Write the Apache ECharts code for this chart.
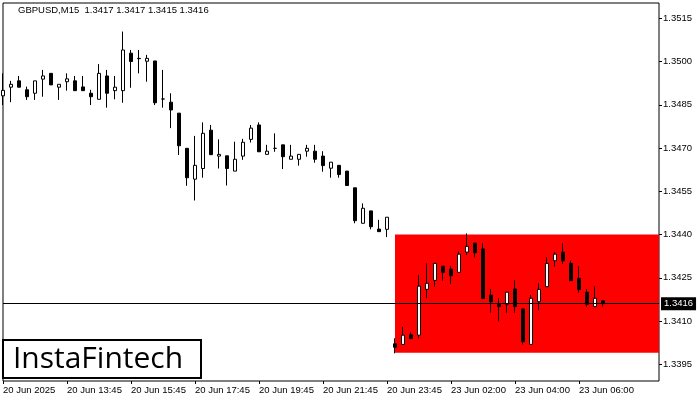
<!DOCTYPE html>
<html><head><meta charset="utf-8">
<script src="https://cdn.jsdelivr.net/npm/echarts@6/dist/echarts.min.js"></script>
<style>html,body{margin:0;padding:0;background:#fff}#c{width:700px;height:400px}</style>
</head><body><div id="c"></div>
<script>
const titleText = 'GBPUSD,M15  1.3417 1.3417 1.3415 1.3416';
const opens = [1.34881,1.34911,1.34933,1.34902,1.34890,1.34939,1.34959,1.34911,1.34930,1.34933,
1.34912,1.34890,1.34869,1.34950,1.34899,1.34899,1.35029,1.35011,1.35001,1.35002,
1.34870,1.34859,1.34821,1.34699,1.34592,1.34629,1.34762,1.34672,1.34673,1.34620,
1.34672,1.34730,1.34780,1.34678,1.34699,1.34711,1.34661,1.34661,1.34689,1.34689,
1.34672,1.34630,1.34640,1.34620,1.34562,1.34439,1.34482,1.34419,1.34418,1.34021,
1.34019,1.34052,1.34051,1.34210,1.34241,1.34290,1.34280,1.34269,1.34339,1.34370,
1.34350,1.34190,1.34158,1.34158,1.34211,1.34142,1.34019,1.34167,1.34219,1.34309,
1.34339,1.34300,1.34248,1.34200,1.34150,1.34170];
const closes = [1.34900,1.34921,1.34911,1.34878,1.34933,1.34950,1.34919,1.34921,1.34940,1.34899,
1.34899,1.34878,1.34959,1.34890,1.34911,1.35040,1.35000,1.35010,1.35011,1.34857,
1.34870,1.34832,1.34708,1.34597,1.34640,1.34751,1.34677,1.34678,1.34629,1.34661,
1.34720,1.34769,1.34687,1.34689,1.34699,1.34670,1.34672,1.34678,1.34699,1.34661,
1.34639,1.34651,1.34608,1.34570,1.34448,1.34491,1.34427,1.34410,1.34460,1.34009,
1.34051,1.34039,1.34221,1.34231,1.34300,1.34269,1.34257,1.34332,1.34359,1.34337,
1.34178,1.34167,1.34150,1.34200,1.34150,1.34028,1.34179,1.34210,1.34300,1.34332,
1.34309,1.34240,1.34209,1.34158,1.34179,1.34160];
const lows = [1.34849,1.34859,1.34911,1.34867,1.34867,1.34878,1.34919,1.34867,1.34899,1.34899,
1.34899,1.34849,1.34869,1.34840,1.34869,1.34857,1.34909,1.34959,1.34930,1.34849,
1.34840,1.34769,1.34676,1.34569,1.34518,1.34597,1.34677,1.34629,1.34570,1.34620,
1.34659,1.34719,1.34687,1.34678,1.34687,1.34627,1.34661,1.34639,1.34670,1.34649,
1.34618,1.34597,1.34597,1.34570,1.34439,1.34439,1.34418,1.34410,1.34391,1.33988,
1.34019,1.34039,1.34040,1.34179,1.34219,1.34240,1.34229,1.34269,1.34329,1.34320,
1.34178,1.34129,1.34098,1.34129,1.34129,1.34019,1.34019,1.34138,1.34219,1.34289,
1.34298,1.34240,1.34198,1.34150,1.34150,1.34150];
const highs = [1.34959,1.34933,1.34950,1.34913,1.34933,1.34971,1.34959,1.34921,1.34959,1.34950,
1.34950,1.34902,1.34991,1.34971,1.34950,1.35104,1.35040,1.35040,1.35023,1.35002,
1.34971,1.34890,1.34821,1.34699,1.34742,1.34789,1.34780,1.34730,1.34673,1.34722,
1.34732,1.34780,1.34789,1.34711,1.34751,1.34711,1.34711,1.34678,1.34711,1.34711,
1.34689,1.34651,1.34640,1.34620,1.34562,1.34508,1.34482,1.34451,1.34460,1.34040,
1.34080,1.34061,1.34260,1.34300,1.34300,1.34290,1.34291,1.34341,1.34404,1.34370,
1.34370,1.34211,1.34179,1.34200,1.34242,1.34142,1.34190,1.34231,1.34321,1.34339,
1.34370,1.34309,1.34290,1.34211,1.34221,1.34170];
const yTickValues = [1.3395,1.3410,1.3425,1.3440,1.3455,1.3470,1.3485,1.3500,1.3515];
const currentPrice = 1.3416;
const zoneLow = 1.3399, zoneHigh = 1.3440, zoneStartIndex = 49;
const yMin = 1.33892, yMax = 1.35203;

// 15-minute bar times: Fri 20 Jun from 11:45, then Mon 23 Jun from 00:15, plus empty right-side slots
const categories = [];
function fmt(day, mins){const h=Math.floor(mins/60), m=mins%60;return day+' Jun '+String(h).padStart(2,'0')+':'+String(m).padStart(2,'0');}
for(let i=0;i<49;i++) categories.push(fmt(20, 11*60+45+15*i));
for(let i=0;i<34;i++) categories.push(fmt(23, 15+15*i));
const labelEvery = 8, lastLabelIndex = 72;
const showLabel = (i)=> i%labelEvery===0 && i<=lastLabelIndex;

const candles = opens.map((o,i)=>[o, closes[i], lows[i], highs[i]]);
const chart = echarts.init(document.getElementById('c'), null, {renderer:'canvas'});
const font = 'Liberation Sans';
chart.setOption({
  animation:false,
  backgroundColor:'#fff',
  grid:{left:3, right:41, top:3, height:378, show:true, borderColor:'#000', borderWidth:1, backgroundColor:'#fff'},
  xAxis:{type:'category', data:categories, boundaryGap:false,
    axisLine:{show:false}, splitLine:{show:false},
    axisTick:{show:true, length:3, lineStyle:{color:'#000'}, interval:showLabel},
    axisLabel:{interval:showLabel, align:'left', margin:4, color:'#000', fontFamily:font, fontSize:9.5,
      formatter:(v,i)=> i===0 ? '20 Jun 2025' : v}},
  yAxis:[{type:'value', position:'right', min:yMin, max:yMax, scale:true,
    axisLine:{show:false}, splitLine:{show:false},
    axisTick:{show:true, length:3, customValues:yTickValues, lineStyle:{color:'#000'}},
    axisLabel:{customValues:yTickValues, margin:4, color:'#000', fontFamily:font, fontSize:9.5, formatter:v=>v.toFixed(4)}},
   {type:'value', position:'right', min:yMin, max:yMax, scale:true,
    axisLine:{show:false}, splitLine:{show:false}, axisTick:{show:false},
    axisLabel:{customValues:[currentPrice], margin:2, color:'#fff', backgroundColor:'#000', padding:[2,3,1,3],
      fontFamily:font, fontSize:9.5, formatter:v=>v.toFixed(4)}}],
  series:[
    {type:'line', data:[], z:1, silent:true,
     markArea:{silent:true, itemStyle:{color:'#ff0000', opacity:1},
       data:[[{coord:[zoneStartIndex, zoneHigh]},{coord:[categories.length-1, zoneLow]}]]}},
    {type:'line', data:[], z:1, silent:true,
     markLine:{silent:true, symbol:['none','none'], label:{show:false},
       lineStyle:{color:'#000', width:1, type:'solid'},
       data:[[{coord:[0, currentPrice]},{coord:[categories.length-1, currentPrice]}]]}},
    {type:'candlestick', data:candles, z:2, barWidth:4,
     itemStyle:{color:'#fff', color0:'#000', borderColor:'#000', borderColor0:'#000', borderWidth:1}}
  ],
  graphic:[
    {type:'text', left:18, top:5, style:{text:titleText, font:'9.5px '+font, fill:'#000'}},
    {type:'rect', shape:{x:3, y:340, width:198, height:38}, style:{fill:'#fff', stroke:'#000', lineWidth:2}, z:100},
    {type:'text', x:98, y:359, z:101, style:{text:'InstaFintech', font:'30px "Open Sans"', fill:'#000', align:'center', verticalAlign:'middle'}}
  ]
});
</script></body></html>
